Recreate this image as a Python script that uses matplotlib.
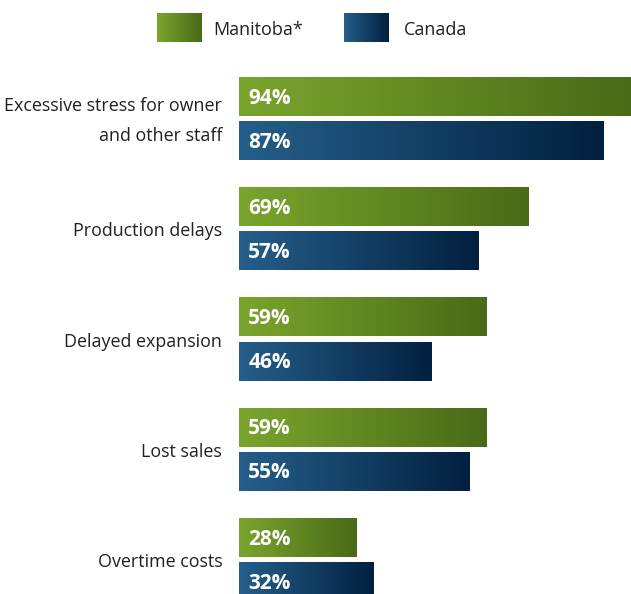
import matplotlib.pyplot as plt
import numpy as np
from matplotlib.colors import LinearSegmentedColormap

plt.rcParams['font.family'] = ['Open Sans', 'DejaVu Sans']

categories = ['Excessive stress for owner\nand other staff', 'Production delays',
              'Delayed expansion', 'Lost sales', 'Overtime costs']
manitoba = [94, 69, 59, 59, 28]
canada = [87, 57, 46, 55, 32]
series_names = ['Manitoba*', 'Canada']

green = LinearSegmentedColormap.from_list('green', ['#7aa52d', '#496a17'])
blue = LinearSegmentedColormap.from_list('blue', ['#255f8b', '#02203f'])
grad = np.linspace(0, 1, 256).reshape(1, -1)

W, H = 631, 594
fig = plt.figure(figsize=(W / 100, H / 100), dpi=100)

# main axes in pixel terms: bars start at x=239, top of axes at y=62
ax = fig.add_axes([239 / W, -2 / H, (W - 239) / W, 534 / H])
px_per_unit = 4.195
ax.axis('off')

bh = 0.345
off = 0.2


def grad_bar(y, v, cmap):
    ax.imshow(grad, cmap=cmap, extent=[0, v, y + bh / 2, y - bh / 2],
              aspect='auto', interpolation='bicubic', zorder=2)


for i, (m, c) in enumerate(zip(manitoba, canada)):
    grad_bar(i - off, m, green)
    grad_bar(i + off, c, blue)
    for y, v in ((i - off, m), (i + off, c)):
        ax.text(2.2, y + 0.01, f'{v}%', color='white', fontsize=15, fontweight='bold',
                va='center', ha='left', zorder=3)
    ax.text(-4.0, i + 0.02, categories[i], ha='right', va='center', fontsize=12.9,
            color='#231f20', linespacing=1.9, clip_on=False)

ax.set_xlim(0, (W - 239) / px_per_unit)
ax.set_ylim(4.327, -0.517)

# legend swatches
for x0, dx, cmap, name in ((157, 56, green, series_names[0]),
                           (344, 60, blue, series_names[1])):
    lax = fig.add_axes([x0 / W, 1 - 42 / H, 45 / W, 29 / H])
    lax.imshow(grad, cmap=cmap, aspect='auto', interpolation='bicubic')
    lax.axis('off')
    fig.text((x0 + dx) / W, 1 - 30 / H, name, ha='left', va='center',
             fontsize=13, color='#231f20')

fig.savefig('out.png', dpi=100)
